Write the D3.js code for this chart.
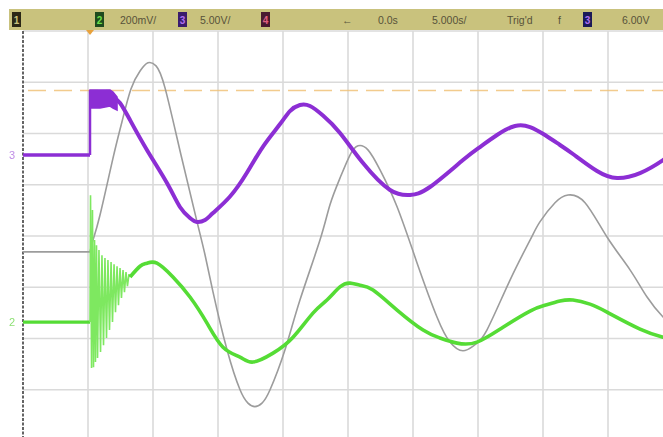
<!DOCTYPE html>
<html><head><meta charset="utf-8">
<script src="https://cdn.jsdelivr.net/npm/d3@7"></script>
<style>html,body{margin:0;padding:0;background:#fff;} svg{display:block;}</style>
</head><body>
<svg id="c" width="663" height="437"></svg>
<script>
// ---------- data ----------
const timePerDiv = 5;           // s/div
const hDivs = 10, vDivs = 8;
const ch1VPerDiv = 1, ch2VPerDiv = 0.2, ch3VPerDiv = 5;
const ch1Offset = -0.31, ch2Offset = -1.68, ch3Offset = 1.58; // ground marker, div from centre
const trigLevelV = 6.3;         // on ch3
const tStart = -5.154;          // left edge of screen (s)

const preT = [-5.2, 0];

// ch1 (grey)
const ch1T = [0, 0.23, 0.77, 1.77, 2.46, 3.15, 3.85, 4.46, 5.08, 5.77, 7.0, 8.23, 8.85, 9.46, 10.54, 11.54, 12.15, 12.69, 13.23, 13.85, 15.0, 16.15, 17.69, 18.46, 19.23, 20.0, 20.62, 21.38, 22.31, 23.62, 25.15, 26.69, 27.69, 28.69, 29.62, 30.54, 32.31, 33.85, 34.62, 35.77, 36.77, 38.08, 39.77, 41.54, 42.85, 44.08, 44.9];
const ch1V = [0, 0.23, 0.72, 1.83, 2.54, 3.18, 3.53, 3.69, 3.63, 3.20, 1.89, 0.59, -0.06, -0.78, -1.91, -2.69, -2.95, -3.02, -2.95, -2.69, -1.91, -0.94, 0.23, 0.92, 1.44, 1.89, 2.07, 1.99, 1.60, 0.88, -0.21, -1.27, -1.76, -1.93, -1.81, -1.52, -0.55, 0.23, 0.59, 0.96, 1.11, 0.96, 0.29, -0.35, -0.88, -1.27, -1.45];

// ch2 (green), ringing burst after trigger (V)
const ch2BurstT = [0, 0.04, 0.12, 0.19, 0.27, 0.35, 0.42, 0.5, 0.58, 0.69, 0.81, 0.92, 1.04, 1.15, 1.27, 1.38, 1.5, 1.62, 1.73, 1.85, 1.96, 2.08, 2.19, 2.31, 2.42, 2.54, 2.65, 2.77, 2.88, 3.0, 3.08];
const ch2BurstV = [0, 0.495, -0.179, 0.437, -0.176, 0.320, -0.156, 0.300, -0.140, 0.281, -0.117, 0.261, -0.090, 0.250, -0.062, 0.242, -0.031, 0.234, 0.0, 0.226, 0.039, 0.218, 0.066, 0.211, 0.094, 0.203, 0.117, 0.195, 0.140, 0.187, 0.176];
// ch2 smooth part (V)
const ch2T = [3.08, 3.85, 4.38, 5.15, 6.38, 7.69, 9.0, 10.23, 11.54, 12.54, 14.08, 15.62, 17.15, 18.23, 19.23, 20.0, 20.77, 21.77, 23.62, 25.62, 26.92, 28.23, 29.77, 31.77, 33.85, 35.0, 36.15, 37.15, 38.46, 39.77, 42.31, 44.08, 44.9];
const ch2V = [0.176, 0.218, 0.230, 0.230, 0.176, 0.098, -0.004, -0.098, -0.137, -0.156, -0.121, -0.059, 0.035, 0.086, 0.137, 0.152, 0.144, 0.125, 0.047, -0.031, -0.062, -0.082, -0.078, -0.020, 0.043, 0.066, 0.082, 0.086, 0.070, 0.039, -0.027, -0.059, -0.07];

// ch3 (purple), clipped band right after trigger (V)
const ch3BandT  = [0, 0.1, 0.77, 1.54, 1.77, 2.08];
const ch3BandHi = [6.34, 6.34, 6.34, 6.34, 6.15, 5.66];
const ch3BandLo = [4.68, 4.59, 4.59, 4.78, 4.59, 4.39];
// ch3 smooth part (V)
const ch3T = [1.77, 2.31, 3.08, 4.38, 5.92, 6.92, 7.69, 8.23, 8.85, 9.46, 10.77, 12.08, 13.31, 14.62, 15.38, 16.15, 16.92, 17.92, 19.23, 21.0, 23.08, 24.62, 26.15, 28.69, 30.0, 31.31, 32.69, 33.85, 35.0, 36.15, 37.15, 39.0, 40.54, 42.31, 44.08, 44.9];
const ch3V = [5.66, 5.07, 3.41, 0.49, -2.73, -5.07, -6.15, -6.54, -6.34, -5.66, -4.05, -1.71, 0.83, 3.02, 4.29, 4.88, 4.78, 3.85, 2.15, -0.78, -3.41, -3.90, -3.12, -0.49, 0.78, 1.95, 2.83, 2.73, 1.95, 0.98, 0.10, -1.56, -2.24, -1.76, -0.49, 0.3];

// header texts
const headerBoxes = [
  {label: '1', x: 12, color: '#2b2716', text: '#c9c27e'},
  {label: '2', x: 95, color: '#1e4a1e', text: '#6fe04a'},
  {label: '3', x: 178, color: '#3a1c6c', text: '#b070f0'},
  {label: '4', x: 261, color: '#4a1a30', text: '#e06080'},
  {label: '3', x: 583, color: '#1b1a58', text: '#b070f0'}
];
const headerTexts = [
  {t: '200mV/', x: 120}, {t: '5.00V/', x: 200}, {t: '←', x: 342},
  {t: '0.0s', x: 378}, {t: '5.000s/', x: 432}, {t: "Trig'd", x: 507},
  {t: 'f', x: 558}, {t: '6.00V', x: 622}
];

// ---------- drawing ----------
const svg = d3.select('#c');
const W = 663, H = 437;
const gx = d3.scaleLinear().domain([0, hDivs]).range([23, 673]);
const gy = d3.scaleLinear().domain([-vDivs / 2, vDivs / 2]).range([441, 31]);
const x = d3.scaleLinear().domain([tStart, tStart + hDivs * timePerDiv]).range([23, 673]);
const yCh = (off, vpd) => v => gy(off + v / vpd);
const y1 = yCh(ch1Offset, ch1VPerDiv), y2 = yCh(ch2Offset, ch2VPerDiv), y3 = yCh(ch3Offset, ch3VPerDiv);

svg.append('rect').attr('width', W).attr('height', H).attr('fill', '#fff');

const defs = svg.append('defs');
defs.append('filter').attr('id', 'soft').append('feGaussianBlur').attr('stdDeviation', 0.45);
defs.append('clipPath').attr('id', 'plot').append('rect')
  .attr('x', 23).attr('y', 31).attr('width', 650).attr('height', 410);

// grid
const grid = svg.append('g').attr('stroke', '#dadada').attr('stroke-width', 1.6);
d3.range(1, hDivs + 1).forEach(i => grid.append('line')
  .attr('x1', gx(i)).attr('x2', gx(i)).attr('y1', 31).attr('y2', H));
d3.range(-vDivs / 2 + 1, vDivs / 2 + 1).forEach(j => grid.append('line')
  .attr('x1', 23).attr('x2', W).attr('y1', gy(j)).attr('y2', gy(j)));
// left border
svg.append('line').attr('x1', gx(0)).attr('x2', gx(0)).attr('y1', 31).attr('y2', H)
  .attr('stroke', '#4a4a4a').attr('stroke-width', 1.7).attr('stroke-dasharray', '3,1.5');

// trigger level
svg.append('line').attr('x1', 28).attr('x2', W)
  .attr('y1', y3(trigLevelV)).attr('y2', y3(trigLevelV))
  .attr('stroke', '#f0c27a').attr('stroke-width', 1.6).attr('stroke-dasharray', '18,8').attr('opacity', 0.85);

const plot = svg.append('g').attr('clip-path', 'url(#plot)').attr('filter', 'url(#soft)');
const line = (ys, curve) => d3.line().x(d => x(d[0])).y(d => ys(d[1])).curve(curve);
const zip = (a, b) => a.map((v, i) => [v, b[i]]);
const smooth = d3.curveNatural;

// ch1 grey
plot.append('path').datum(zip(preT, [0, 0])).attr('d', line(y1, d3.curveLinear))
  .attr('fill', 'none').attr('stroke', '#9c9c9c').attr('stroke-width', 1.6);
plot.append('path').datum(zip(ch1T, ch1V)).attr('d', line(y1, smooth))
  .attr('fill', 'none').attr('stroke', '#9c9c9c').attr('stroke-width', 1.6);

// ch2 green
const green = '#55dc35';
plot.append('path').datum(zip(preT, [0, 0])).attr('d', line(y2, d3.curveLinear))
  .attr('fill', 'none').attr('stroke', green).attr('stroke-width', 3.2);
plot.append('path').datum(zip(ch2BurstT, ch2BurstV)).attr('d', line(y2, d3.curveLinear))
  .attr('fill', 'none').attr('stroke', '#7ee860').attr('stroke-width', 1.6);
plot.append('path').datum(zip(ch2T, ch2V)).attr('d', line(y2, smooth))
  .attr('fill', 'none').attr('stroke', green).attr('stroke-width', 3.6);

// ch3 purple
const purple = '#8c2fd4';
plot.append('path').datum(zip(preT, [0, 0])).attr('d', line(y3, d3.curveLinear))
  .attr('fill', 'none').attr('stroke', purple).attr('stroke-width', 3.6);
plot.append('line').attr('x1', x(0)).attr('x2', x(0)).attr('y1', y3(0)).attr('y2', y3(ch3BandHi[0]))
  .attr('stroke', purple).attr('stroke-width', 2.5);
plot.append('path').datum(ch3BandT.map((t, i) => [t, ch3BandHi[i], ch3BandLo[i]]))
  .attr('d', d3.area().x(d => x(d[0])).y0(d => y3(d[2])).y1(d => y3(d[1])))
  .attr('fill', purple).attr('stroke', purple).attr('stroke-width', 1.5);
plot.append('path').datum(zip(ch3T, ch3V)).attr('d', line(y3, smooth))
  .attr('fill', 'none').attr('stroke', purple).attr('stroke-width', 4);

// channel ground markers
svg.append('text').attr('x', 9).attr('y', y3(0) + 4).text('3')
  .attr('font-family', 'Liberation Sans, Arial, sans-serif').attr('font-size', 11)
  .attr('fill', '#b070e0').attr('opacity', 0.8);
svg.append('text').attr('x', 9).attr('y', y2(0) + 4).text('2')
  .attr('font-family', 'Liberation Sans, Arial, sans-serif').attr('font-size', 11)
  .attr('fill', '#70d850').attr('opacity', 0.8);

// header bar
svg.append('rect').attr('x', 9).attr('y', 9).attr('width', W - 9).attr('height', 21).attr('fill', '#c9c27d');
const hb = svg.append('g').attr('font-family', 'Liberation Sans, Arial, sans-serif');
headerBoxes.forEach(b => {
  hb.append('rect').attr('x', b.x).attr('y', 12).attr('width', 9).attr('height', 15).attr('fill', b.color);
  hb.append('text').attr('x', b.x + 4.5).attr('y', 23.5).attr('text-anchor', 'middle')
    .attr('font-size', 10).attr('font-weight', 'bold').attr('fill', b.text).text(b.label);
});
headerTexts.forEach(h => {
  hb.append('text').attr('x', h.x).attr('y', 23.5).attr('font-size', 10.5)
    .attr('fill', '#57523a').text(h.t);
});
// trigger position marker
svg.append('path').attr('d', d3.line()([[x(0) - 4, 30], [x(0) + 4, 30], [x(0), 35]]) + 'Z')
  .attr('fill', '#e8a23c');
</script>
</body></html>
